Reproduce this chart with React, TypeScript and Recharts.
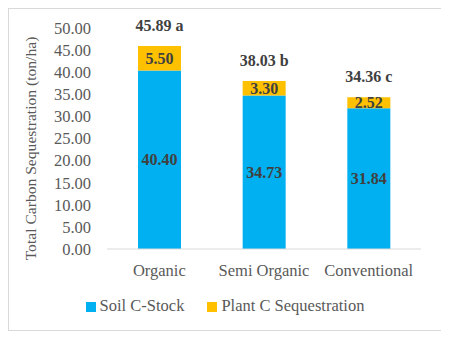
import React from "react";
import { BarChart, Bar, XAxis, YAxis, Legend, LabelList, Label } from "recharts";

// values
const categories = ["Organic", "Semi Organic", "Conventional"];
const soilStock = [40.4, 34.73, 31.84];
const plantSeq = [5.5, 3.3, 2.52];
const totals = [45.89, 38.03, 34.36];
const letters = ["a", "b", "c"];
const yTicks = [0, 5, 10, 15, 20, 25, 30, 35, 40, 45, 50];

const data = categories.map((name, i) => ({
    name,
    soil: soilStock[i],
    plant: plantSeq[i],
    totalLabel: `${totals[i].toFixed(2)} ${letters[i]}`,
}));

const FONT = "Liberation Serif, Tinos, DejaVu Serif, serif";
const BLUE = "#00B0F0";
const ORANGE = "#FFC000";
const GREY = "#595959";
const labelStyle = { fill: "#404040", fontWeight: "bold", fontSize: 16, fontFamily: FONT };

// total + significance letter, drawn above the stacked bar without wrapping
const TotalLabel = (props: any) => {
    const { x, y, width, value } = props;
    return (
        <text x={x + width / 2} y={y - 15} textAnchor="middle" style={labelStyle}>
            {value}
        </text>
    );
};

// rotated y-axis title, centred a little below the middle of the plot
const YTitle = (props: any) => {
    const { viewBox } = props;
    const cx = viewBox.x + 21;
    const cy = viewBox.y + viewBox.height / 2 + 10;
    return (
        <text
            x={cx}
            y={cy}
            transform={`rotate(-90, ${cx}, ${cy})`}
            textAnchor="middle"
            dominantBaseline="central"
            style={{ fill: GREY, fontSize: 15.6, fontFamily: FONT }}
        >
            Total Carbon Sequestration (ton/ha)
        </text>
    );
};

const App = () => {
    return (
        <div
            style={{
                width: 434,
                height: 323,
                border: "1px solid #d9d9d9",
                boxSizing: "border-box",
                fontFamily: FONT,
            }}
        >
            <BarChart
                width={432}
                height={321}
                data={data}
                margin={{ top: 19, right: 20, bottom: 51, left: 0 }}
                style={{ fontFamily: FONT }}
            >
                <XAxis
                    dataKey="name"
                    tickLine={false}
                    axisLine={{ stroke: "#d9d9d9" }}
                    tick={{ fill: GREY, fontSize: 16.5, style: { fontFamily: FONT } }}
                    tickMargin={9}
                />
                <YAxis
                    width={98}
                    domain={[0, 50]}
                    ticks={yTicks}
                    interval={0}
                    tickFormatter={(v: number) => v.toFixed(2)}
                    axisLine={false}
                    tickLine={false}
                    tickMargin={10}
                    tick={{ fill: GREY, fontSize: 16.5, style: { fontFamily: FONT } }}
                >
                    <Label content={YTitle} />
                </YAxis>
                <Legend
                    layout="horizontal"
                    verticalAlign="middle"
                    align="center"
                    iconType="square"
                    iconSize={10}
                    itemSorter={(item: any) => (item.value === "Soil C-Stock" ? 0 : 1)}
                    wrapperStyle={{ top: 287, left: 5, width: 432, fontSize: 16.5, fontFamily: FONT }}
                    formatter={(value: string) => (
                        <span style={{ color: GREY, fontFamily: FONT, marginRight: value === "Soil C-Stock" ? 13 : 0 }}>
                            {value}
                        </span>
                    )}
                />
                <Bar dataKey="soil" name="Soil C-Stock" stackId="a" fill={BLUE} barSize={43} isAnimationActive={false}>
                    <LabelList dataKey="soil" position="center" formatter={(v: number) => v.toFixed(2)} style={labelStyle} />
                </Bar>
                <Bar dataKey="plant" name="Plant C Sequestration" stackId="a" fill={ORANGE} barSize={43} isAnimationActive={false}>
                    <LabelList dataKey="plant" position="center" formatter={(v: number) => v.toFixed(2)} style={labelStyle} />
                    <LabelList dataKey="totalLabel" content={TotalLabel} />
                </Bar>
            </BarChart>
        </div>
    );
};

export default App;
